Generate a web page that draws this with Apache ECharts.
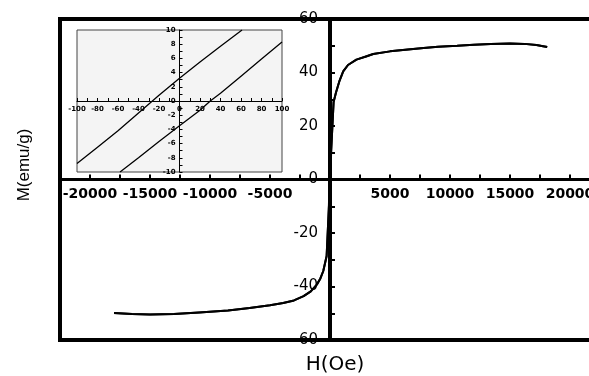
<!DOCTYPE html>
<html>
<head>
<meta charset="utf-8">
<script src="https://cdn.jsdelivr.net/npm/echarts@6/dist/echarts.min.js"></script>
<style>
  html, body { margin: 0; padding: 0; background: #fff; }
  #chart { width: 589px; height: 376px; }
</style>
</head>
<body>
<div id="chart"></div>
<script>
// 主图 M-H 回线数据（正场 / 负场）
const posH = [100, 200, 300, 500, 800, 1100, 1500, 2200, 3000, 3600, 5000, 6500, 7800, 9000, 10600, 12000, 13400, 15000, 16200, 17200, 18100];
const posM = [11, 20, 29, 32.5, 37, 40.4, 42.8, 44.8, 46, 46.9, 47.9, 48.6, 49.2, 49.6, 50, 50.4, 50.7, 50.8, 50.7, 50.3, 49.5];
const negH = [-100, -280, -560, -800, -1100, -1600, -2200, -3000, -3900, -5000, -6700, -8500, -10900, -13000, -15000, -16500, -18000];
const negM = [-11, -28.6, -34.2, -37, -39.3, -41.8, -43.6, -45.2, -46.2, -47, -48, -49, -49.7, -50.3, -50.5, -50.3, -49.9];
// 零场附近（矫顽力）
const centerDownH = [0, -28];
const centerDownM = [3.2, 0];
const centerUpH = [0, 30];
const centerUpM = [-3.5, 0];

// 插图数据
const insetUpH = [-100, -80, -60, -40, -20, 0, 20, 40, 61];
const insetUpM = [-8.8, -6.5, -4.2, -1.7, 0.8, 3.2, 5.5, 7.7, 10];
const insetDownH = [-58, -40, -20, 0, 20, 30, 40, 60, 80, 100];
const insetDownM = [-10, -8.0, -5.7, -3.5, -1.3, 0, 1.1, 3.5, 5.9, 8.3];

const pairs = (xs, ys) => xs.map((x, i) => [x, ys[i]]);

const descData = pairs(posH, posM).reverse()
  .concat(pairs(centerDownH, centerDownM))
  .concat(pairs(negH, negM));
const ascData = pairs(negH, negM).reverse()
  .concat(pairs(centerUpH, centerUpM))
  .concat(pairs(posH, posM));

const labelFont = { fontFamily: 'DejaVu Sans', fontWeight: 'bold', color: '#000' };

let myChart = echarts.init(document.getElementById('chart'));
let option = {
  animation: false,
  backgroundColor: '#fff',
  grid: [
    {
      left: 60, top: 19, width: 540, height: 321,
      show: true, borderColor: '#000', borderWidth: 4,
      backgroundColor: 'transparent',
      outerBoundsMode: 'none'
    },
    {
      left: 77, top: 30, width: 205, height: 142,
      show: true, borderColor: '#444', borderWidth: 1,
      backgroundColor: '#f4f4f4',
      outerBoundsMode: 'none'
    }
  ],
  xAxis: [
    {
      type: 'value', gridIndex: 0, position: 'bottom', offset: -160.5,
      min: -22500, max: 22500, interval: 2500,
      axisLine: { onZero: false, lineStyle: { color: '#000', width: 3 } },
      axisTick: { show: true, inside: true, length: 5, lineStyle: { color: '#000', width: 2 } },
      axisLabel: {
        ...labelFont, fontSize: 14, margin: 8,
        formatter: v => (v !== 0 && v % 5000 === 0) ? String(v) : ''
      },
      splitLine: { show: false }
    },
    {
      type: 'value', gridIndex: 1, position: 'bottom', offset: -71,
      min: -100, max: 100, interval: 10,
      axisLine: { onZero: false, lineStyle: { color: '#000', width: 1 } },
      axisTick: { show: true, inside: true, length: 3, lineStyle: { color: '#000', width: 1 } },
      axisLabel: {
        ...labelFont, fontSize: 7, margin: 5,
        formatter: v => (v % 20 === 0) ? String(v) : ''
      },
      splitLine: { show: false }
    }
  ],
  yAxis: [
    {
      type: 'value', gridIndex: 0, position: 'left', offset: -270,
      min: -60, max: 60, interval: 10,
      axisLine: { onZero: false, lineStyle: { color: '#000', width: 4 } },
      axisTick: { show: true, inside: true, length: 5, lineStyle: { color: '#000', width: 2 } },
      axisLabel: {
        fontFamily: 'DejaVu Sans', color: '#000', fontSize: 15, margin: 12,
        formatter: v => (v % 20 === 0) ? String(v) : ''
      },
      splitLine: { show: false }
    },
    {
      type: 'value', gridIndex: 1, position: 'left', offset: -102.5,
      min: -10, max: 10, interval: 1,
      axisLine: { onZero: false, lineStyle: { color: '#000', width: 1 } },
      axisTick: { show: true, inside: true, length: 3, lineStyle: { color: '#000', width: 1 } },
      axisLabel: {
        ...labelFont, fontSize: 7, margin: 4,
        formatter: v => (v % 2 === 0) ? String(v) : ''
      },
      splitLine: { show: false }
    }
  ],
  graphic: [
    {
      type: 'text', x: 24, y: 165, rotation: Math.PI / 2,
      style: { text: 'M(emu/g)', font: '17px "Liberation Sans"', fill: '#000', align: 'center', verticalAlign: 'middle' }
    },
    {
      type: 'text', x: 335, y: 365,
      style: { text: 'H(Oe)', font: '20px "DejaVu Sans"', fill: '#000', align: 'center', verticalAlign: 'middle' }
    }
  ],
  series: [
    {
      type: 'line', xAxisIndex: 0, yAxisIndex: 0,
      data: descData, showSymbol: false,
      lineStyle: { color: '#000', width: 2 }
    },
    {
      type: 'line', xAxisIndex: 0, yAxisIndex: 0,
      data: ascData, showSymbol: false,
      lineStyle: { color: '#000', width: 2 }
    },
    {
      type: 'line', xAxisIndex: 1, yAxisIndex: 1,
      data: pairs(insetUpH, insetUpM), showSymbol: false,
      lineStyle: { color: '#000', width: 1.3 }
    },
    {
      type: 'line', xAxisIndex: 1, yAxisIndex: 1,
      data: pairs(insetDownH, insetDownM), showSymbol: false,
      lineStyle: { color: '#000', width: 1.3 }
    }
  ]
};
option && myChart.setOption(option);
</script>
</body>
</html>
